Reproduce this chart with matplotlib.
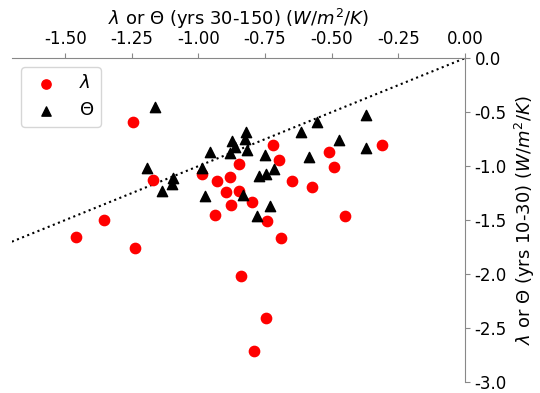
import numpy as np
import matplotlib
matplotlib.use("Agg")
import matplotlib.pyplot as plt

# lambda (red circles) values
lam_x = [-1.247, -1.172, -1.353, -1.460, -1.238, -0.846, -0.720, -0.699, -0.986,
         -0.930, -0.883, -0.896, -0.846, -0.877, -0.800, -0.937, -0.743, -0.689,
         -0.649, -0.574, -0.510, -0.491, -0.449, -0.311, -0.841, -0.748, -0.793]
lam_y = [-0.587, -1.127, -1.497, -1.657, -1.760, -0.979, -0.803, -0.942, -1.071,
         -1.136, -1.105, -1.244, -1.226, -1.358, -1.333, -1.451, -1.506, -1.667,
         -1.136, -1.198, -0.865, -1.004, -1.460, -0.809, -2.016, -2.405, -2.716]

# Theta (black triangles) values
th_x = [-1.162, -1.194, -1.097, -1.099, -1.137, -0.956, -0.987, -0.974, -0.873,
        -0.861, -0.881, -0.821, -0.824, -0.819, -0.833, -0.750, -0.774, -0.748,
        -0.717, -0.731, -0.781, -0.614, -0.554, -0.585, -0.474, -0.370, -0.370]
th_y = [-0.454, -1.019, -1.111, -1.164, -1.226, -0.865, -1.019, -1.281, -0.772,
        -0.824, -0.880, -0.685, -0.750, -0.849, -1.266, -0.895, -1.096, -1.071,
        -1.025, -1.368, -1.466, -0.685, -0.587, -0.917, -0.756, -0.531, -0.833]

fig = plt.figure(figsize=(5.4, 3.93), dpi=100)
ax = fig.add_axes([0.022, 0.028, 0.839, 0.824])

ax.plot([-1.7, 0], [-1.7, 0], ls=":", color="black", lw=1.5, zorder=1)
ax.scatter(lam_x, lam_y, s=55, marker="o", color="red", label=r"$\lambda$", zorder=3)
ax.scatter(th_x, th_y, s=55, marker="^", color="black", label=r"$\Theta$", zorder=3)

ax.set_xlim(-1.7, 0)
ax.set_ylim(-3, 0)
ax.set_xticks([-1.5, -1.25, -1.0, -0.75, -0.5, -0.25, 0.0])
ax.set_yticks([-3.0, -2.5, -2.0, -1.5, -1.0, -0.5, 0.0])
ax.xaxis.set_major_formatter(matplotlib.ticker.FormatStrFormatter("%.2f"))
ax.yaxis.set_major_formatter(matplotlib.ticker.FormatStrFormatter("%.1f"))

ax.xaxis.tick_top()
ax.xaxis.set_label_position("top")
ax.yaxis.tick_right()
ax.yaxis.set_label_position("right")
for side in ["left", "bottom"]:
    ax.spines[side].set_visible(False)
for side in ["top", "right"]:
    ax.spines[side].set_color("#888888")
ax.tick_params(colors="#888888", labelcolor="black", labelsize=12)

ax.set_xlabel(r"$\lambda$ or $\Theta$ (yrs 30-150) ($W/m^2/K$)", fontsize=13)
ax.set_ylabel(r"$\lambda$ or $\Theta$ (yrs 10-30) ($W/m^2/K$)", fontsize=13)

ax.legend(loc="upper left", fontsize=13, scatterpoints=1, markerscale=0.9)

fig.savefig("out.png", dpi=100)
